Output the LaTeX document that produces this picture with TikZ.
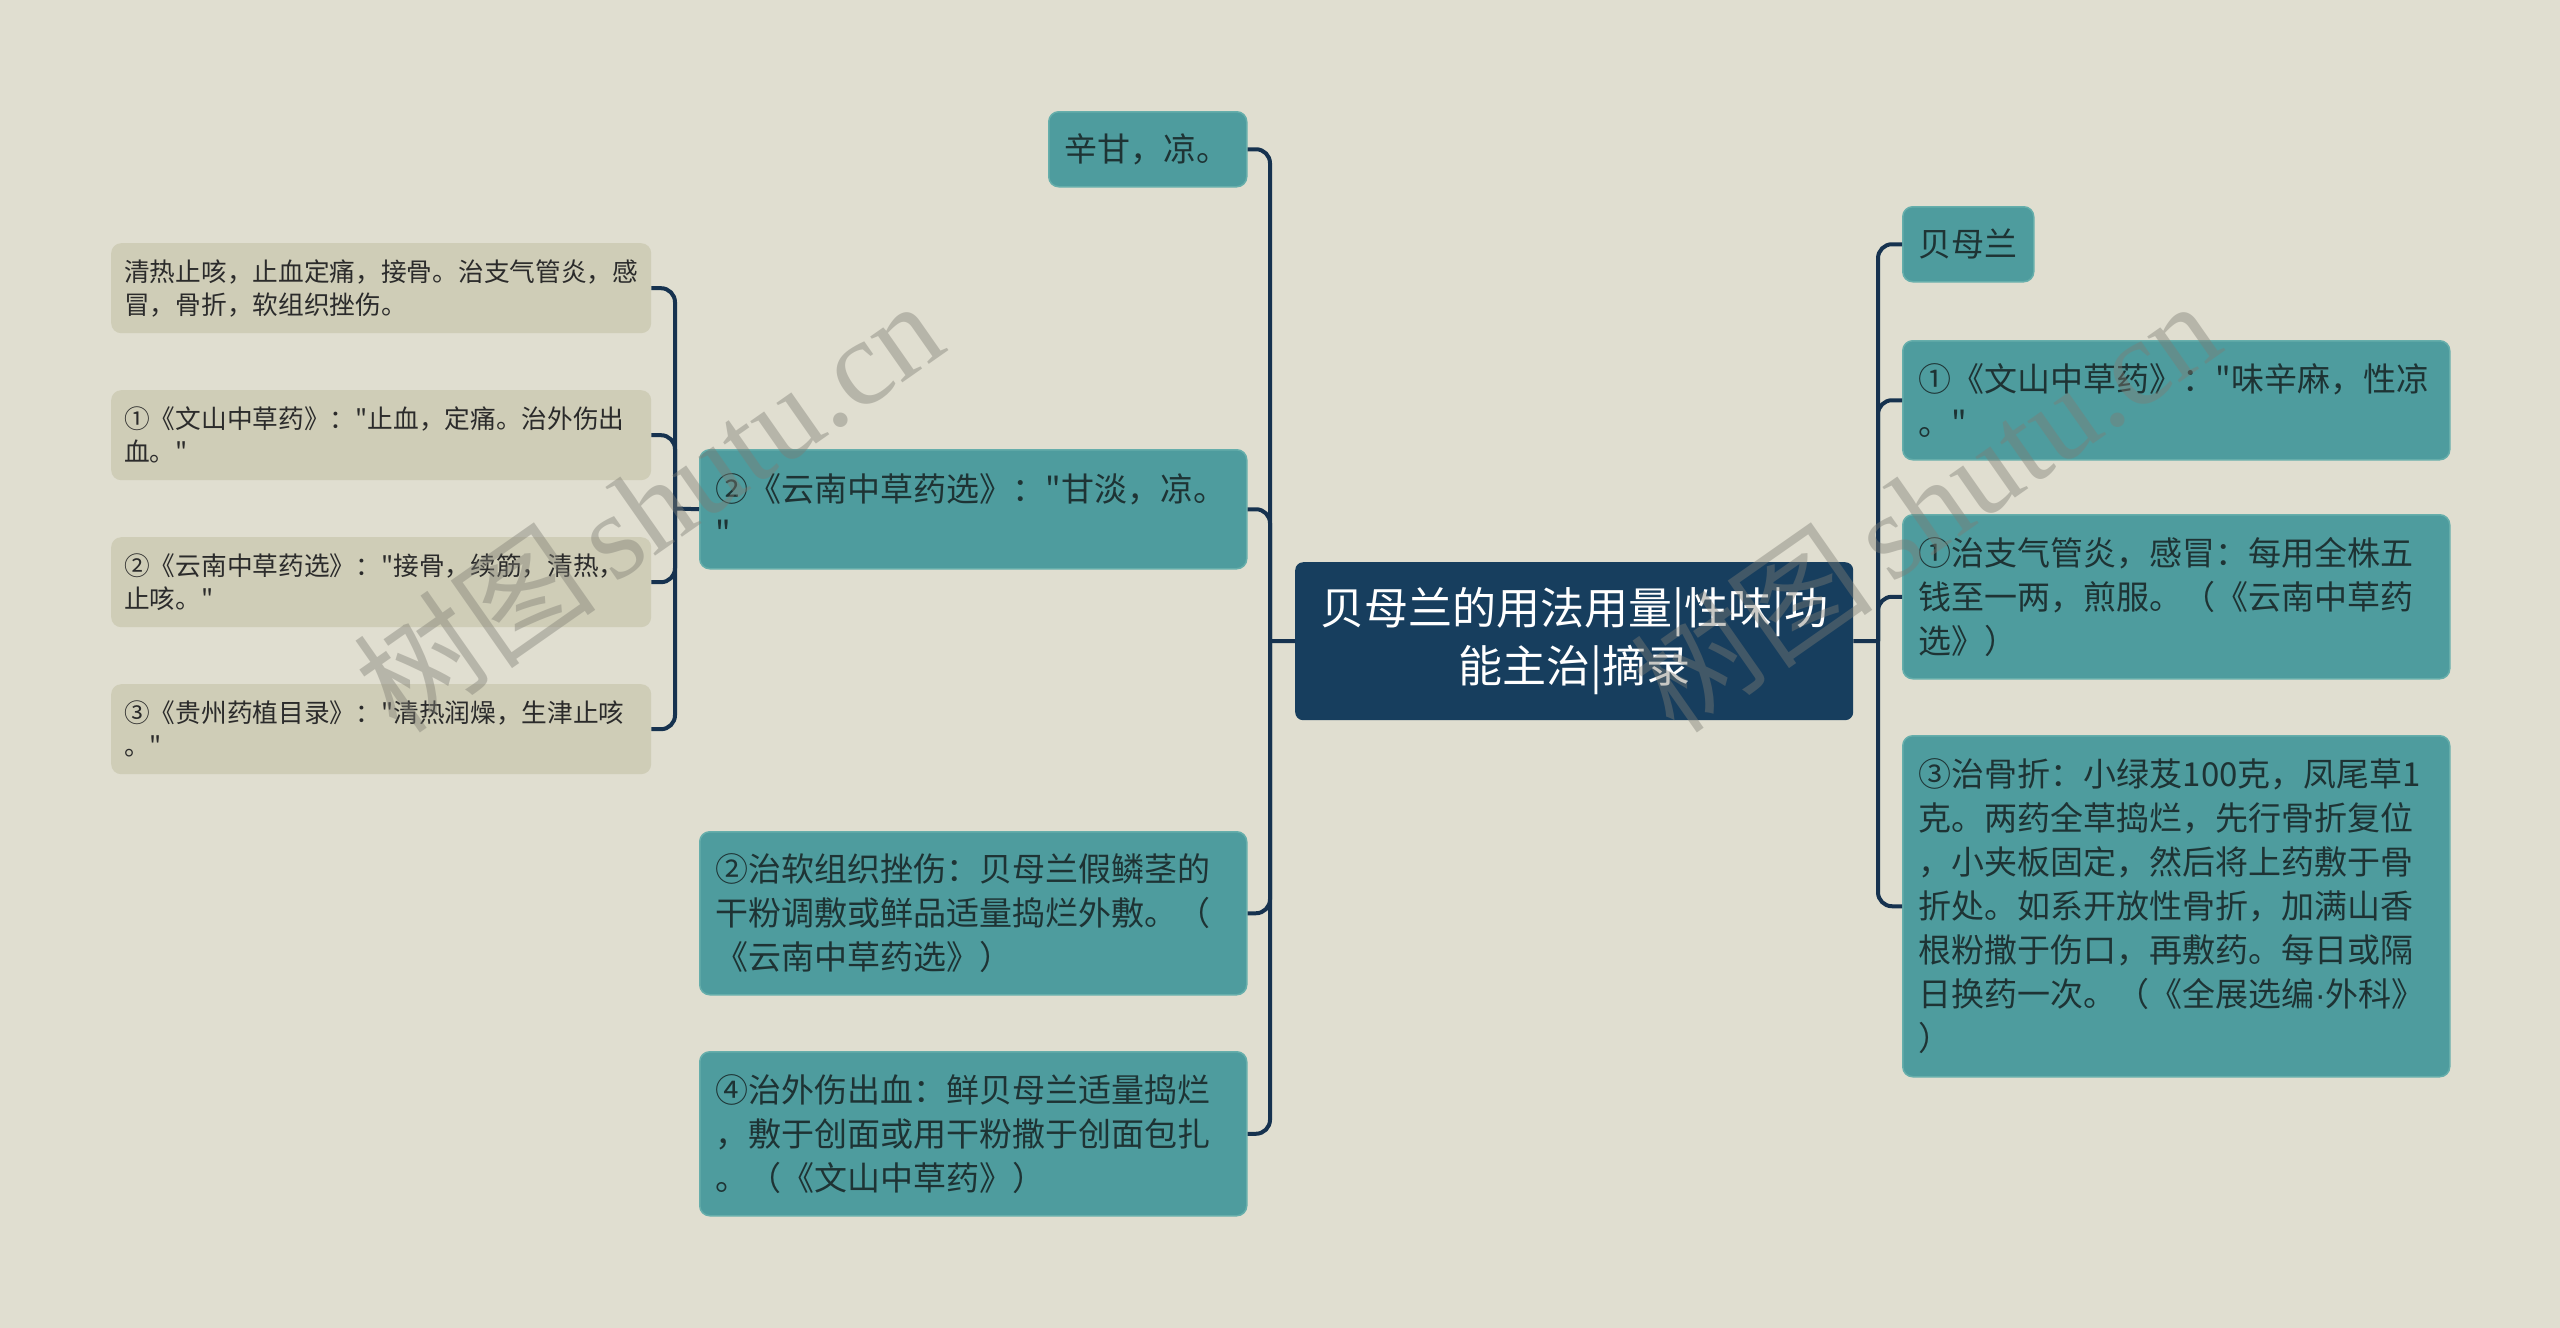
\documentclass[tikz,border=0pt]{standalone}
\usepackage{fontspec}
\setmainfont{Noto Sans CJK SC}[Ligatures=TeXOff]
\newfontfamily\wmserif{Liberation Serif}
\newfontfamily\latinf{Liberation Sans}
\newcommand{\mdot}{{\latinf ·}}
\definecolor{bgc}{HTML}{E0DED0}
\definecolor{tealfill}{HTML}{4E9C9E}
\definecolor{tealedge}{HTML}{66AEAB}
\definecolor{tealtext}{HTML}{1E3334}
\definecolor{leaffill}{HTML}{CFCDB7}
\definecolor{leaftext}{HTML}{2B2B2B}
\definecolor{rootfill}{HTML}{173E5E}
\definecolor{linec}{HTML}{16324F}
\definecolor{wmc}{HTML}{7E7D74}
\tikzset{
  tealbox/.style={fill=tealfill, draw=tealedge, line width=1.5pt, rounded corners=10pt,
    anchor=north west, inner xsep=16pt, inner ysep=0pt, align=left, text=tealtext,
    font=\fontsize{33pt}{44pt}\selectfont},
  leafbox/.style={fill=leaffill, rounded corners=10pt, anchor=north west,
    inner xsep=13pt, inner ysep=0pt, align=left, text=leaftext,
    text width=514pt, minimum height=90pt,
    font=\fontsize{25.7pt}{33pt}\selectfont},
  rootbox/.style={fill=rootfill, rounded corners=8pt, anchor=north west,
    inner xsep=14pt, inner ysep=0pt, align=center, text=white,
    text width=530pt, minimum height=158pt,
    font=\fontsize{44pt}{58pt}\selectfont},
  conn/.style={draw=linec, line width=4pt, rounded corners=14pt},
  wmark/.style={text=wmc, opacity=0.42, rotate=35, inner sep=0pt}
}
\begin{document}
\begin{tikzpicture}[x=1pt,y=-1pt]
\useasboundingbox[fill=bgc] (0,0) rectangle (2560,1328);

% root
\node[rootbox] (root) at (1295,562) {贝母兰的用法用量|性味|功\\能主治|摘录};

% left teal nodes
\node[tealbox, text width=166pt, minimum height=75pt] (xg) at (1048,111) {辛甘，凉。};
\node[tealbox, text width=515pt, minimum height=119pt] (yn) at (699,449) {②《云南中草药选》："甘淡，凉。\\"};
\node[tealbox, text width=515pt, minimum height=163pt] (rz) at (699,831) {②治软组织挫伤：贝母兰假鳞茎的\\干粉调敷或鲜品适量捣烂外敷。（\\《云南中草药选》）};
\node[tealbox, text width=515pt, minimum height=164pt] (ws) at (699,1051) {④治外伤出血：鲜贝母兰适量捣烂\\，敷于创面或用干粉撒于创面包扎\\。（《文山中草药》）};

% leaves
\node[leafbox] (l1) at (111,243) {清热止咳，止血定痛，接骨。治支气管炎，感\\冒，骨折，软组织挫伤。};
\node[leafbox] (l2) at (111,390) {①《文山中草药》："止血，定痛。治外伤出\\血。"};
\node[leafbox] (l3) at (111,537) {②《云南中草药选》："接骨，续筋，清热，\\止咳。"};
\node[leafbox] (l4) at (111,684) {③《贵州药植目录》："清热润燥，生津止咳\\。"};

% right nodes
\node[tealbox, text width=99pt, minimum height=75pt] (bm) at (1902,206) {贝母兰};
\node[tealbox, text width=515pt, minimum height=119pt] (r1) at (1902,340) {①《文山中草药》："味辛麻，性凉\\。"};
\node[tealbox, text width=515pt, minimum height=164pt] (r2) at (1902,514) {①治支气管炎，感冒：每用全株五\\钱至一两，煎服。（《云南中草药\\选》）};
\node[tealbox, text width=515pt, minimum height=341pt] (r3) at (1902,735) {③治骨折：小绿芨100克，凤尾草1\\克。两药全草捣烂，先行骨折复位\\，小夹板固定，然后将上药敷于骨\\折处。如系开放性骨折，加满山香\\根粉撒于伤口，再敷药。每日或隔\\日换药一次。（《全展选编\mdot 外科》\\）};

% junctions
\coordinate (jl) at (1270,641);
\coordinate (jr) at (1878,641);
\coordinate (js) at (675,508.5);

% connectors left
\draw[conn] (root.west) -- (jl);
\draw[conn] (jl) |- (xg.east);
\draw[conn] (jl) |- (yn.east);
\draw[conn] (jl) |- (rz.east);
\draw[conn] (jl) |- (ws.east);
% sub
\draw[conn] (yn.west) -- (js);
\draw[conn] (js) |- (l1.east);
\draw[conn] (js) |- (l2.east);
\draw[conn] (js) |- (l3.east);
\draw[conn] (js) |- (l4.east);
% right
\draw[conn] (root.east) -- (jr);
\draw[conn] (jr) |- (bm.west);
\draw[conn] (jr) |- (r1.west);
\draw[conn] (jr) |- (r2.west);
\draw[conn] (jr) |- (r3.west);

% watermarks
\node[wmark] (wm1) at (648,505) {\fontsize{122pt}{122pt}\selectfont 树图\,{\wmserif shutu.cn}};
\node[wmark] (wm2) at (1925,505) {\fontsize{122pt}{122pt}\selectfont 树图\,{\wmserif shutu.cn}};
\end{tikzpicture}
\end{document}
